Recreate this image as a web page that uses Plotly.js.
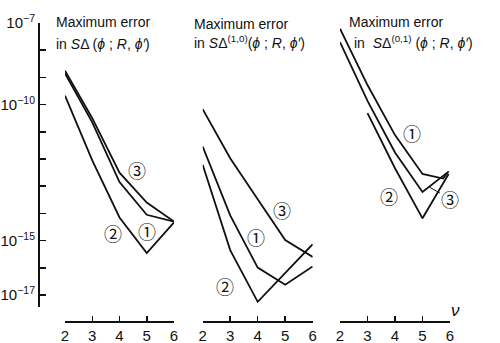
<!DOCTYPE html>
<html>
<head>
<meta charset="utf-8">
<script src="https://cdn.plot.ly/plotly-3.0.1.min.js"></script>
<style>html,body{margin:0;padding:0;background:#fff;}#chart{width:500px;height:343px;}</style>
</head>
<body>
<div id="chart"></div>
<script>
// log10 of maximum error
const nu = [2, 3, 4, 5, 6];

// Panel 1: S_Δ(φ;R,φ')
const p1_c1 = [-8.85, -10.65, -12.85, -14.05, -14.3];
const p1_c2 = [-9.67, -12.05, -14.15, -15.46, -14.33];
const p1_c3 = [-8.75, -10.5, -12.5, -13.6, -14.3];

// Panel 2: S_Δ^(1,0)(φ;R,φ')
const p2_c1 = [-11.54, -14.07, -15.99, -16.62, -15.95];
const p2_c2 = [-12.21, -15.35, -17.25, -16.17, -15.13];
const p2_c3 = [-10.17, -11.97, -13.48, -14.98, -15.6];

// Panel 3: S_Δ^(0,1)(φ;R,φ')
const p3_c1_x = [2, 3, 4, 5, 5.75, 5.95];
const p3_c1 = [-7.21, -9.28, -11.12, -12.55, -12.72, -12.45];
const p3_c2_x = [3, 4, 5, 5.95];
const p3_c2 = [-10.31, -12.34, -14.18, -12.55];
const p3_c3_x = [2, 3, 4, 5, 5.9];
const p3_c3 = [-7.7, -9.86, -11.76, -13.21, -12.5];

const yTickExp = [-7, -8, -9, -10, -11, -12, -13, -14, -15, -16, -17];
const yLabelled = [-7, -10, -15, -17];
const xTicks = [2, 3, 4, 5, 6];

const toVal = a => a.map(v => Math.pow(10, v));
const line = {color: '#111', width: 1.8};

function tr(x, y, xa) {
  return {x: x, y: toVal(y), xaxis: xa, yaxis: 'y', type: 'scatter', mode: 'lines',
          line: line, hoverinfo: 'skip', showlegend: false};
}

const data = [
  tr(nu, p1_c1, 'x'), tr(nu, p1_c2, 'x'), tr(nu, p1_c3, 'x'),
  tr(nu, p2_c1, 'x2'), tr(nu, p2_c2, 'x2'), tr(nu, p2_c3, 'x2'),
  tr(p3_c1_x, p3_c1, 'x3'), tr(p3_c2_x, p3_c2, 'x3'), tr(p3_c3_x, p3_c3, 'x3')
];

const FONT = 'Liberation Sans, Arial, sans-serif';
function xax(dom) {
  return {domain: dom, range: [2, 6], anchor: 'free', position: 0,
          showline: true, linecolor: '#111', linewidth: 1.5,
          ticks: 'inside', ticklen: 5, tickwidth: 1.5, tickcolor: '#111',
          tickvals: xTicks, ticktext: xTicks.map(String),
          tickfont: {family: FONT, size: 15, color: '#111'},
          showgrid: false, zeroline: false, fixedrange: true};
}

const pw = 412, ph = 298, L = 38, B = 321;
const px = v => (v - L) / pw;
const py = v => (B - v) / ph;

const CF = {family: 'Noto Sans CJK JP, DejaVu Sans', size: 18, color: '#111'};
const circ = (t, x, y) => ({text: t, xref: 'paper', yref: 'paper', x: px(x), y: py(y),
  showarrow: false, font: CF, xanchor: 'center', yanchor: 'middle'});
const title = (t, x, y) => ({text: t, xref: 'paper', yref: 'paper', x: px(x), y: py(y),
  showarrow: false, font: {family: FONT, size: 14, color: '#111'},
  xanchor: 'left', yanchor: 'middle'});

const annotations = [
  title('Maximum error', 54, 22.5),
  title('in <i>S</i>Δ (<i>ϕ</i> ; <i>R</i>, <i>ϕ′</i>)', 54, 44),
  title('Maximum error', 192, 24),
  title('in <i>S</i>Δ<sup>(1,0)</sup>(<i>ϕ</i> ; <i>R</i>, <i>ϕ′</i>)', 192, 42),
  title('Maximum error', 347, 22),
  title('in  <i>S</i>Δ<sup>(0,1)</sup> (<i>ϕ</i> ; <i>R</i>, <i>ϕ′</i>)', 352, 42),
  circ('③', 137, 170), circ('①', 146.7, 230.7), circ('②', 113.3, 233.3),
  circ('③', 281.7, 210), circ('①', 256, 237.3), circ('②', 225, 286),
  circ('①', 411.7, 133.3), circ('②', 389.3, 196),
  {text: '③', xref: 'x3', yref: 'y', x: 5.25, y: -13.03, ax: 21, ay: 12,
   showarrow: true, arrowhead: 0, arrowwidth: 1, arrowcolor: '#111', standoff: 0,
   font: CF},
  {text: '<i>ν</i>', xref: 'paper', yref: 'paper', x: px(462), y: py(322),
   showarrow: false, font: {family: FONT, size: 17, color: '#111'}}
];

const layout = {
  width: 500, height: 343,
  margin: {l: L, r: 500 - L - pw, t: B - ph, b: 343 - B, pad: 0},
  paper_bgcolor: '#fff', plot_bgcolor: 'rgba(0,0,0,0)',
  showlegend: false,
  xaxis: xax([px(65), px(174)]),
  xaxis2: xax([px(202.7), px(312.7)]),
  xaxis3: xax([px(340), px(450)]),
  yaxis: {type: 'log', domain: [py(307), 1], range: [-17.44, -7],
          anchor: 'free', position: 0,
          showline: true, linecolor: '#111', linewidth: 1.5,
          ticks: 'inside', ticklen: 6, tickwidth: 1.5, tickcolor: '#111',
          tickvals: yTickExp.map(e => Math.pow(10, e)),
          ticktext: yTickExp.map(e => yLabelled.includes(e) ? '10<sup>−' + (-e) + '</sup>' : ''),
          tickfont: {family: FONT, size: 15, color: '#111'},
          showgrid: false, zeroline: false, fixedrange: true},
  annotations: annotations
};

Plotly.newPlot('chart', data, layout, {staticPlot: true, displayModeBar: false});
</script>
</body>
</html>
